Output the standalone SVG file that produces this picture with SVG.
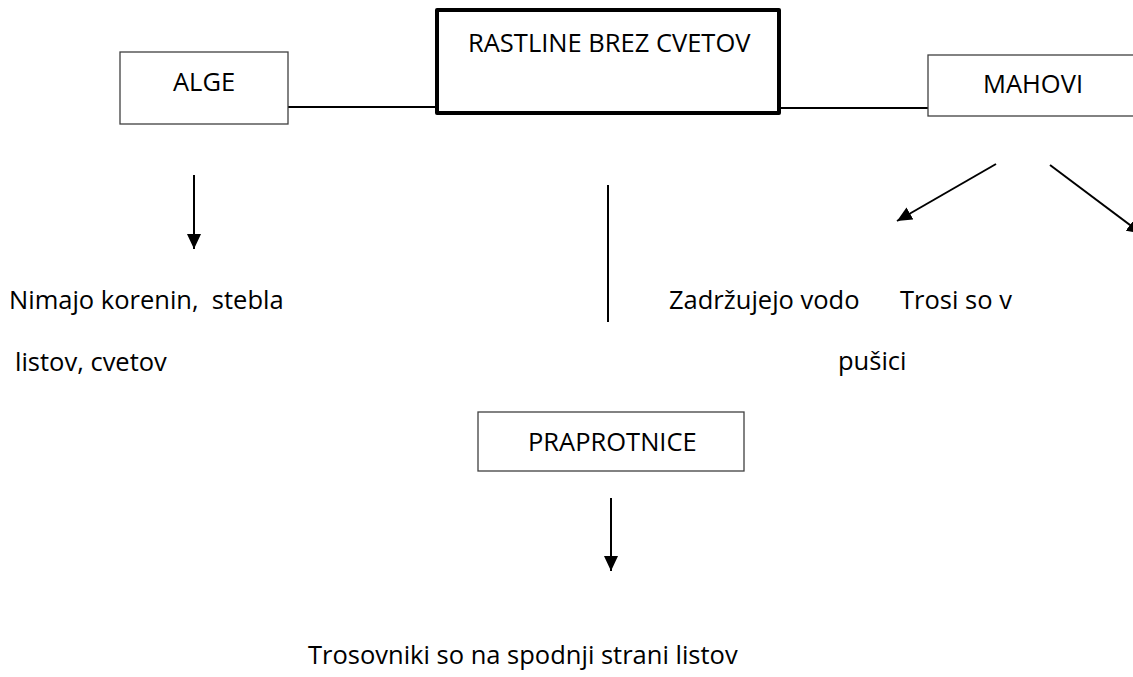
<svg xmlns="http://www.w3.org/2000/svg" width="1133" height="677" viewBox="0 0 1133 677">
<style>
.box{fill:#fff;stroke:#404040;stroke-width:1.3}
.main{fill:#fff;stroke:#000;stroke-width:4;stroke-linejoin:round}
.t{font-family:"Open Sans","Noto Sans","Liberation Sans",sans-serif;font-size:25.5px;fill:#000}
.ln{stroke:#000;stroke-width:2;fill:none}
.ar{stroke:#000;stroke-width:2;fill:none;marker-end:url(#ah)}
</style>
<defs>
<marker id="ah" markerUnits="userSpaceOnUse" markerWidth="16" markerHeight="14" refX="15" refY="7" orient="auto">
<path d="M0,0 L15,7 L0,14 Z" fill="#000"/>
</marker>
</defs>
<rect width="1133" height="677" fill="#fff"/>
<g id="connectors">
<line class="ln" x1="288" y1="107" x2="437" y2="107"/>
<line class="ln" x1="779" y1="108" x2="928" y2="108"/>
<line class="ln" x1="608" y1="185" x2="608" y2="322"/>
<line class="ar" x1="194" y1="175" x2="194" y2="249"/>
<line class="ar" x1="611" y1="498" x2="611" y2="571"/>
<line class="ar" x1="996" y1="164" x2="897" y2="221"/>
<line class="ar" x1="1050" y1="165" x2="1142" y2="234"/>
</g>
<g id="alge">
<rect class="box" x="120" y="52" width="168" height="72"/>
<text class="t" x="173" y="91">ALGE</text>
</g>
<g id="rastline">
<rect class="main" x="437" y="10" width="342" height="103"/>
<text class="t" x="468" y="52">RASTLINE BREZ CVETOV</text>
</g>
<g id="mahovi">
<rect class="box" x="928" y="55" width="215" height="61"/>
<text class="t" x="983" y="93">MAHOVI</text>
</g>
<g id="alge-opis">
<text class="t" x="9" y="309" xml:space="preserve">Nimajo korenin,  stebla</text>
<text class="t" x="15" y="371">listov, cvetov</text>
</g>
<g id="mahovi-opis">
<text class="t" x="669" y="309">Zadržujejo vodo</text>
<text class="t" x="900" y="309">Trosi so v</text>
<text class="t" x="838" y="370">pušici</text>
</g>
<g id="praprotnice">
<rect class="box" x="478" y="412" width="266" height="59"/>
<text class="t" x="528" y="451">PRAPROTNICE</text>
</g>
<g id="praprotnice-opis">
<text class="t" x="308" y="664">Trosovniki so na spodnji strani listov</text>
</g>
</svg>
